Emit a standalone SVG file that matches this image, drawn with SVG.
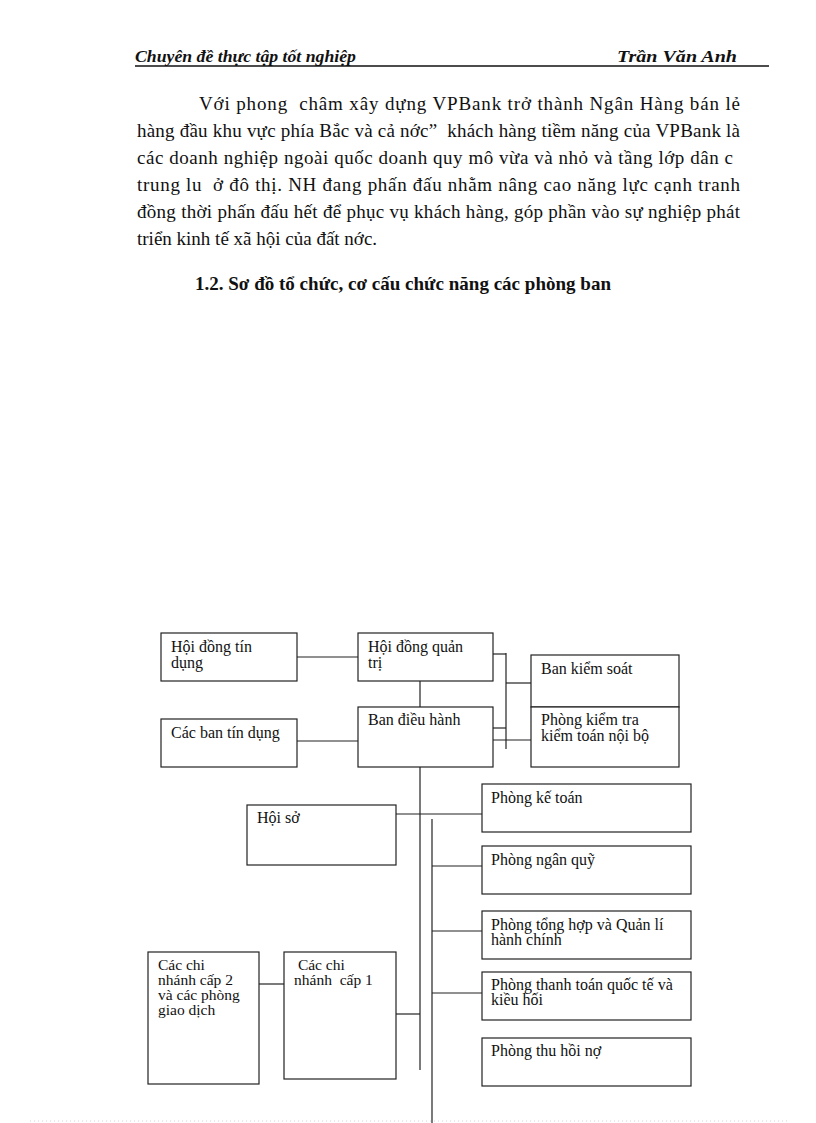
<svg xmlns="http://www.w3.org/2000/svg" width="816" height="1123" viewBox="0 0 816 1123">
<style>
.hdr{font-family:"Liberation Serif",serif;font-style:italic;font-weight:bold;font-size:16px;fill:#111}
.body{font-family:"Liberation Serif",serif;font-size:19px;fill:#111}
.h2{font-family:"Liberation Serif",serif;font-weight:bold;font-size:19px;fill:#111}
.box{fill:#fff;stroke:#222;stroke-width:1.2}
.lbl{font-family:"Liberation Serif",serif;font-size:16px;fill:#111;white-space:pre}
.sm{font-size:15.5px}
.con line{stroke:#222;stroke-width:1.2}
</style>
<rect width="816" height="1123" fill="#fff"/>
<g id="header">
<text class="hdr" x="135" y="62" textLength="221" lengthAdjust="spacingAndGlyphs">Chuyên đề thực tập tốt nghiệp</text>
<text class="hdr" x="617" y="62" textLength="120" lengthAdjust="spacingAndGlyphs">Trần Văn Anh</text>
<line x1="135" y1="66" x2="769" y2="66" stroke="#111" stroke-width="1.5"/>
</g>
<g id="paragraph">
<text class="body" x="199" y="110" textLength="541" lengthAdjust="spacing" xml:space="preserve">Với phong  châm xây dựng VPBank trở thành Ngân Hàng bán lẻ</text>
<text class="body" x="137" y="137" textLength="603" lengthAdjust="spacing" xml:space="preserve">hàng đầu khu vực phía Bắc và cả nớc”  khách hàng tiềm năng của VPBank là</text>
<text class="body" x="137" y="164" textLength="596" lengthAdjust="spacing">các doanh nghiệp ngoài quốc doanh quy mô vừa và nhỏ và tầng lớp dân c</text>
<text class="body" x="137" y="191" textLength="603" lengthAdjust="spacing" xml:space="preserve">trung lu  ở đô thị. NH đang phấn đấu nhằm nâng cao năng lực cạnh tranh</text>
<text class="body" x="137" y="218" textLength="603" lengthAdjust="spacing">đồng thời phấn đấu hết để phục vụ khách hàng, góp phần vào sự nghiệp phát</text>
<text class="body" x="137" y="245">triển kinh tế xã hội của đất nớc.</text>
<text class="h2" x="195" y="290" textLength="416" lengthAdjust="spacing">1.2. Sơ đồ tổ chức, cơ cấu chức năng các phòng ban</text>
</g>
<g id="connectors" class="con">
<line x1="297" y1="657" x2="358" y2="657"/>
<line x1="297" y1="741" x2="358" y2="741"/>
<line x1="420" y1="677" x2="420" y2="713"/>
<line x1="493" y1="654" x2="506" y2="654"/>
<line x1="506" y1="653" x2="506" y2="749"/>
<line x1="506" y1="683" x2="531" y2="683"/>
<line x1="493" y1="728" x2="506" y2="728"/>
<line x1="493" y1="740" x2="531" y2="740"/>
<line x1="420" y1="758" x2="420" y2="1070"/>
<line x1="396" y1="814" x2="482" y2="814"/>
<line x1="432" y1="819" x2="432" y2="1123"/>
<line x1="432" y1="866" x2="482" y2="866"/>
<line x1="432" y1="931" x2="482" y2="931"/>
<line x1="432" y1="993" x2="482" y2="993"/>
<line x1="396" y1="1014" x2="420" y2="1014"/>
<line x1="259" y1="984" x2="284" y2="984"/>
</g>
<g id="n-hdtd"><rect class="box" x="161" y="633" width="136" height="48"/><text class="lbl" x="171" y="652">Hội đồng tín</text><text class="lbl" x="171" y="668">dụng</text></g>
<g id="n-hdqt"><rect class="box" x="358" y="633" width="135" height="48"/><text class="lbl" x="368" y="652">Hội đồng quản</text><text class="lbl" x="368" y="668">trị</text></g>
<g id="n-bks"><rect class="box" x="531" y="655" width="148" height="52"/><text class="lbl" x="541" y="674">Ban kiểm soát</text></g>
<g id="n-ktnb"><rect class="box" x="531" y="707" width="148" height="60"/><text class="lbl" x="541" y="725">Phòng kiểm tra</text><text class="lbl" x="541" y="741">kiểm toán nội bộ</text></g>
<g id="n-btd"><rect class="box" x="161" y="719" width="136" height="48"/><text class="lbl" x="171" y="738">Các ban tín dụng</text></g>
<g id="n-bdh"><rect class="box" x="358" y="707" width="135" height="60"/><text class="lbl" x="368" y="725">Ban điều hành</text></g>
<g id="n-hoiso"><rect class="box" x="247" y="805" width="149" height="60"/><text class="lbl" x="257" y="823">Hội sở</text></g>
<g id="n-ketoan"><rect class="box" x="482" y="784" width="209" height="48"/><text class="lbl" x="491" y="803">Phòng kế toán</text></g>
<g id="n-nganquy"><rect class="box" x="482" y="846" width="209" height="48"/><text class="lbl" x="491" y="865">Phòng ngân quỹ</text></g>
<g id="n-tonghop"><rect class="box" x="482" y="911" width="209" height="48"/><text class="lbl" x="491" y="930">Phòng tổng hợp và Quản lí</text><text class="lbl" x="491" y="945">hành chính</text></g>
<g id="n-thanhtoan"><rect class="box" x="482" y="972" width="209" height="48"/><text class="lbl" x="491" y="990">Phòng thanh toán quốc tế và</text><text class="lbl" x="491" y="1005">kiều hối</text></g>
<g id="n-thuhoi"><rect class="box" x="482" y="1038" width="209" height="48"/><text class="lbl" x="491" y="1056">Phòng thu hồi nợ</text></g>
<g id="n-cap2"><rect class="box" x="148" y="952" width="111" height="132"/><text class="lbl sm" x="158" y="970">Các chi</text><text class="lbl sm" x="158" y="985">nhánh cấp 2</text><text class="lbl sm" x="158" y="1000">và các phòng</text><text class="lbl sm" x="158" y="1015">giao dịch</text></g>
<g id="n-cap1"><rect class="box" x="284" y="952" width="112" height="127"/><text class="lbl sm" x="294" y="970"> Các chi</text><text class="lbl sm" x="294" y="985">nhánh  cấp 1</text></g>
<line x1="30" y1="1121" x2="790" y2="1121" stroke="#d8d0d8" stroke-width="1" stroke-dasharray="1,3"/>
</svg>
